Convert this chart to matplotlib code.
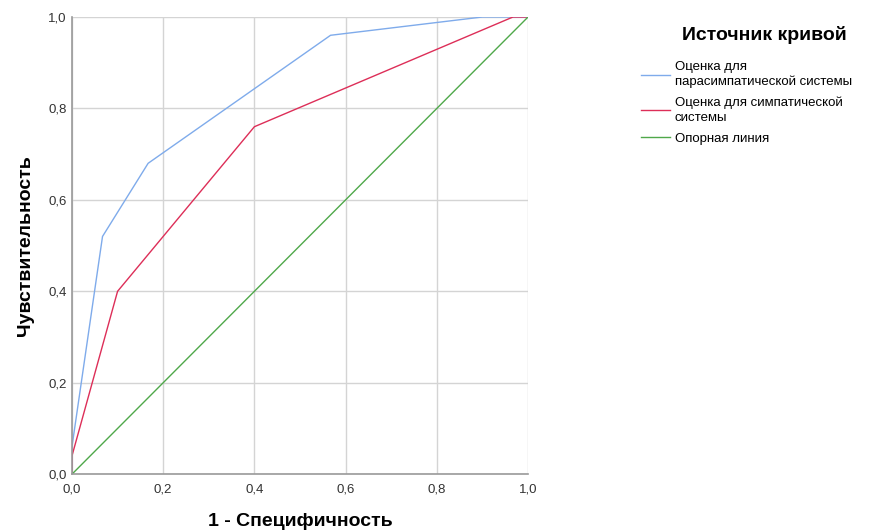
import matplotlib
matplotlib.use("Agg")
import matplotlib.pyplot as plt
from matplotlib.ticker import FuncFormatter

plt.rcParams['font.family'] = ['Liberation Sans', 'DejaVu Sans']

# ROC curve data
para_fpr = [0.0, 0.0, 0.067, 0.167, 0.567, 0.9, 1.0]
para_tpr = [0.0, 0.06, 0.52, 0.68, 0.96, 1.0, 1.0]
symp_fpr = [0.0, 0.0, 0.1, 0.4, 0.967, 1.0]
symp_tpr = [0.0, 0.04, 0.4, 0.76, 1.0, 1.0]
ref_x = [0.0, 1.0]
ref_y = [0.0, 1.0]

labels = ["Оценка для\nпарасимпатической системы",
          "Оценка для симпатической\nсистемы",
          "Опорная линия"]
ticks = [0.0, 0.2, 0.4, 0.6, 0.8, 1.0]

fig = plt.figure(figsize=(8.83, 5.31), dpi=100)
ax = fig.add_axes([0.0815, 0.107, 0.5165, 0.861])

ax.plot(para_fpr, para_tpr, color="#7fabeb", lw=1.0, label=labels[0])
ax.plot(symp_fpr, symp_tpr, color="#dd2e58", lw=1.0, label=labels[1])
ax.plot(ref_x, ref_y, color="#4fa84a", lw=1.0, label=labels[2])

ax.set_xlim(0, 1)
ax.set_ylim(0, 1)
ax.set_xticks(ticks)
ax.set_yticks(ticks)
fmt = FuncFormatter(lambda v, p: f"{v:.1f}".replace(".", ","))
ax.xaxis.set_major_formatter(fmt)
ax.yaxis.set_major_formatter(fmt)
ax.tick_params(length=0, labelsize=9.5, colors="#333333")
ax.tick_params(axis="x", pad=7)
ax.tick_params(axis="y", pad=4)
ax.grid(True, color="#d4d4d4", lw=1.0)
ax.set_axisbelow(True)
for s in ["top", "right"]:
    ax.spines[s].set_visible(False)
for s in ["left", "bottom"]:
    ax.spines[s].set_color("#9a9a9a")
    ax.spines[s].set_linewidth(1.2)

ax.set_xlabel("1 - Специфичность", fontsize=14, fontweight="bold", labelpad=12)
ax.set_ylabel("Чувствительность", fontsize=14, fontweight="bold", labelpad=10)

fig.text(764 / 883, 1 - 35 / 531, "Источник кривой", fontsize=14,
         fontweight="bold", ha="center", va="center")
leg = fig.legend(loc="upper left", bbox_to_anchor=(0.726, 0.885), frameon=False,
                 fontsize=9.5, handlelength=2.2, handletextpad=0.35,
                 labelspacing=0.65, borderpad=0, borderaxespad=0)
for t in leg.get_texts():
    t.set_linespacing(1.3)

fig.savefig("out.png", dpi=100)
